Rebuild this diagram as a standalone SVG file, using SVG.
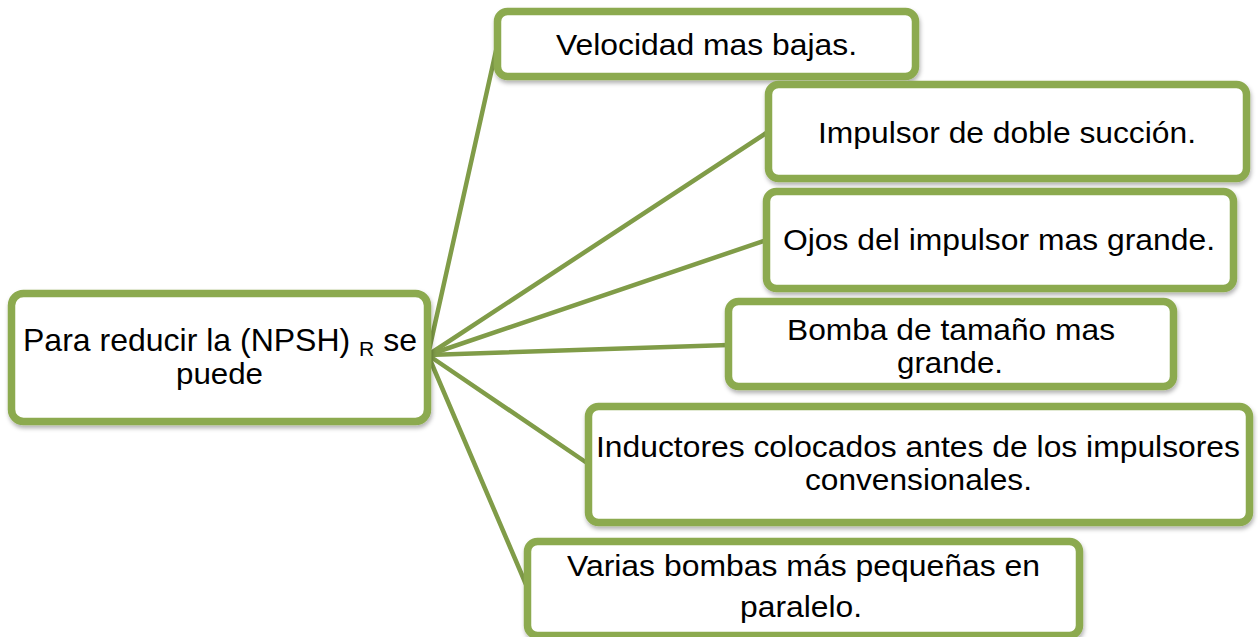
<svg xmlns="http://www.w3.org/2000/svg" width="1258" height="637" viewBox="0 0 1258 637">
<defs>
<filter id="sh" x="-5%" y="-10%" width="110%" height="130%">
<feDropShadow dx="1" dy="3" stdDeviation="2" flood-color="#000" flood-opacity="0.3"/>
</filter>
<style>
.box{fill:#fff;stroke:#8CAA4F;stroke-width:7.5;filter:url(#sh)}
.con{stroke:#809C48;stroke-width:4.5;stroke-linecap:round;fill:none}
text{font-family:"Liberation Sans",Arial,sans-serif;font-size:30px;fill:#000;text-anchor:middle}
.big{font-size:32px}
.sub{font-size:21px}
</style>
</defs>
<rect width="1258" height="637" fill="#fff"/>
<g id="connectors">
<line class="con" x1="428" y1="355" x2="497.5" y2="44"/>
<line class="con" x1="428" y1="355" x2="768.5" y2="131.5"/>
<line class="con" x1="428" y1="355" x2="766.5" y2="240"/>
<line class="con" x1="428" y1="355" x2="728.5" y2="345"/>
<line class="con" x1="428" y1="355" x2="588.5" y2="464"/>
<line class="con" x1="428" y1="355" x2="527.5" y2="588"/>
</g>
<g id="root">
<rect class="box" x="11.5" y="293.5" width="416" height="128" rx="12"/>
<text class="big" x="220" y="351">Para reducir la (NPSH) <tspan class="sub" dy="5">R</tspan><tspan dy="-5"> se</tspan></text>
<text x="219.5" y="384" textLength="87" lengthAdjust="spacingAndGlyphs">puede</text>
</g>
<g id="n1">
<rect class="box" x="497.5" y="11.5" width="418" height="65" rx="10"/>
<text x="706.5" y="55" textLength="301" lengthAdjust="spacingAndGlyphs">Velocidad mas bajas.</text>
</g>
<g id="n2">
<rect class="box" x="768.5" y="84.5" width="478" height="94" rx="10"/>
<text x="1007" y="143" textLength="378" lengthAdjust="spacingAndGlyphs">Impulsor de doble succión.</text>
</g>
<g id="n3">
<rect class="box" x="766.5" y="191.5" width="467" height="97" rx="10"/>
<text x="999" y="250" textLength="432" lengthAdjust="spacingAndGlyphs">Ojos del impulsor mas grande.</text>
</g>
<g id="n4">
<rect class="box" x="728.5" y="301.5" width="445" height="85" rx="10"/>
<text x="951" y="340" textLength="328" lengthAdjust="spacingAndGlyphs">Bomba de tamaño mas</text>
<text x="950" y="373" textLength="106" lengthAdjust="spacingAndGlyphs">grande.</text>
</g>
<g id="n5">
<rect class="box" x="588.5" y="406.5" width="661" height="116" rx="10"/>
<text x="918" y="457" textLength="644" lengthAdjust="spacingAndGlyphs">Inductores colocados antes de los impulsores</text>
<text x="918.5" y="490" textLength="227" lengthAdjust="spacingAndGlyphs">convensionales.</text>
</g>
<g id="n6">
<rect class="box" x="527.5" y="541.5" width="552" height="94" rx="10"/>
<text x="803.5" y="576" textLength="473" lengthAdjust="spacingAndGlyphs">Varias bombas más pequeñas en</text>
<text x="801" y="617" textLength="122" lengthAdjust="spacingAndGlyphs">paralelo.</text>
</g>
</svg>
